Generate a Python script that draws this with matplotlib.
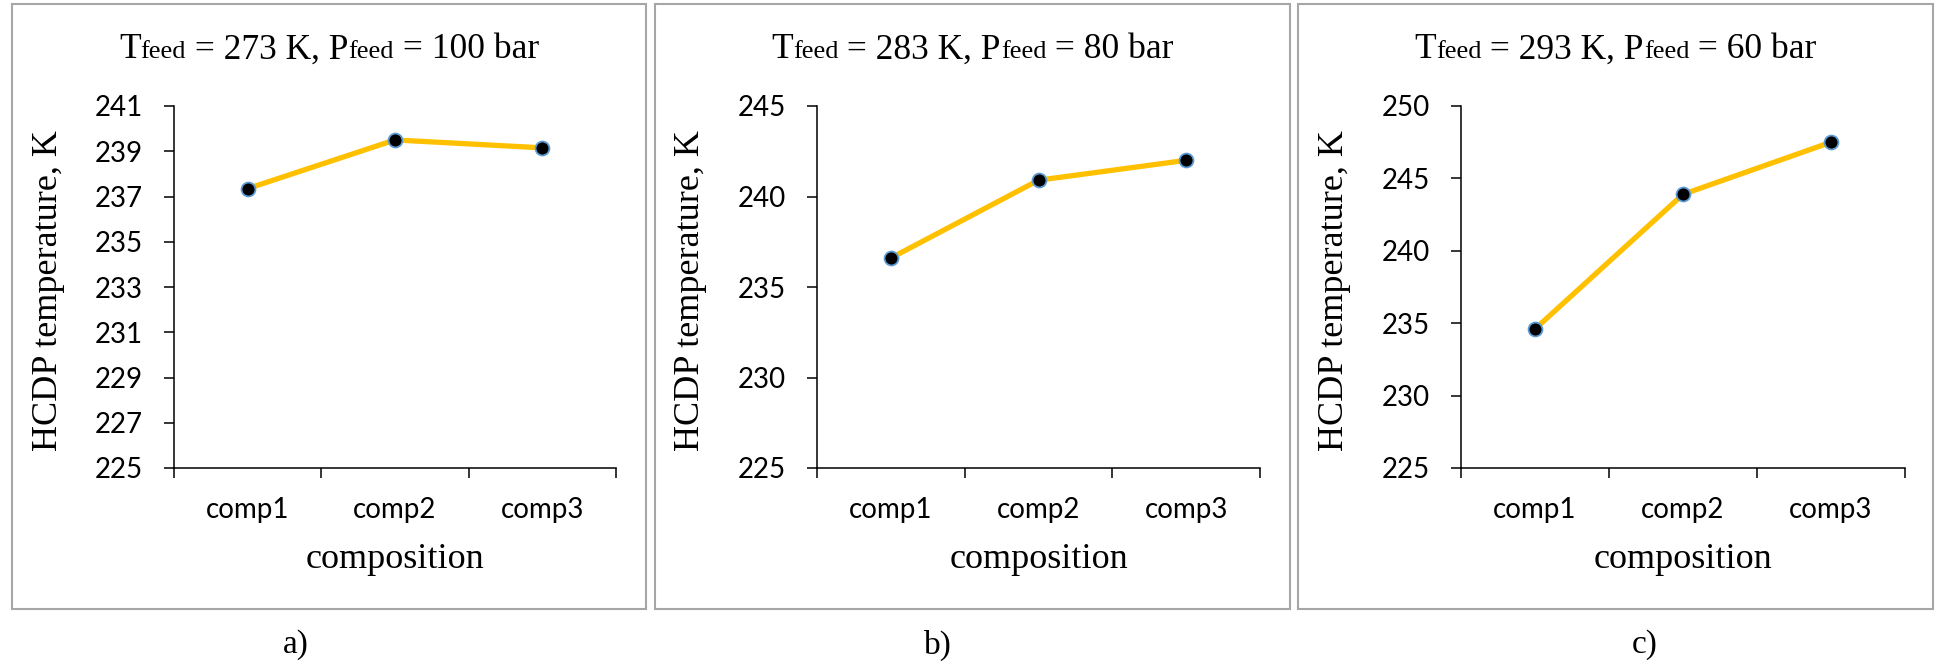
import matplotlib
matplotlib.use("Agg")
import matplotlib.pyplot as plt
from matplotlib.offsetbox import TextArea, HPacker, AnchoredOffsetbox
from matplotlib.patches import Rectangle

compositions = ["comp1", "comp2", "comp3"]
t_feed = [273, 283, 293]
p_feed = [100, 80, 60]
hcdp_a = [237.35, 239.5, 239.15]
hcdp_b = [236.6, 240.9, 242.0]
hcdp_c = [234.6, 243.9, 247.5]
yticks_a = list(range(225, 242, 2))
yticks_b = list(range(225, 246, 5))
yticks_c = list(range(225, 251, 5))
letters = ["a)", "b)", "c)"]

plt.rcParams["font.family"] = ["Lato", "DejaVu Sans"]
serif = "Liberation Serif"

W, H = 1936, 667
fig = plt.figure(figsize=(W / 100, H / 100), dpi=100)

boxes = [(12, 646), (655, 1290), (1298, 1933)]
axes_x = [(174, 616), (817, 1260), (1461, 1905)]
letter_x = [296, 938, 1645]
ax_top, ax_bot = 106, 468

data = [hcdp_a, hcdp_b, hcdp_c]
ticks = [yticks_a, yticks_b, yticks_c]

for i in range(3):
    bx0, bx1 = boxes[i]
    # рамка панели
    fig.add_artist(Rectangle((bx0 / W, 1 - 609 / H), (bx1 - bx0) / W, 605 / H,
                             fill=False, edgecolor="#a6a6a6", lw=1.5,
                             transform=fig.transFigure))

    x0, x1 = axes_x[i]
    ax = fig.add_axes([x0 / W, 1 - ax_bot / H, (x1 - x0) / W, (ax_bot - ax_top) / H])
    ax.plot([1, 2, 3], data[i], color="#FFC000", lw=3.8, marker="o", ms=10,
            mfc="black", mec="#5B9BD5", mew=1.3, zorder=3)
    ax.set_xlim(0.5, 3.5)
    ax.set_ylim(ticks[i][0], ticks[i][-1])
    ax.set_xticks([0.5, 1.5, 2.5, 3.5])
    ax.set_xticklabels([])
    ax.set_xticks([1, 2, 3], minor=True)
    ax.set_xticklabels(compositions, minor=True)
    ax.set_yticks(ticks[i])
    ax.tick_params(axis="x", which="major", direction="out", length=7.5, width=1.1)
    ax.tick_params(axis="x", which="minor", length=0, pad=21, labelsize=20)
    ax.tick_params(axis="y", direction="out", length=7.5, width=1.1, pad=15, labelsize=20)
    for s in ["top", "right"]:
        ax.spines[s].set_visible(False)
    for s in ["left", "bottom"]:
        ax.spines[s].set_linewidth(1.1)

    ax.set_xlabel("composition", family=serif, fontsize=26)
    ax.xaxis.set_label_coords(0.5, -0.254)
    ax.xaxis.label.set_va("center")
    ax.set_ylabel("HCDP temperature, K", family=serif, fontsize=26)
    ax.yaxis.set_label_coords(-0.285, 0.49)
    ax.yaxis.label.set_va("center")

    # заголовок с мелким "feed"
    parts = [("T", 25.5), ("feed", 19), (" = %d K, P" % t_feed[i], 25.5),
             ("feed", 19), (" = %d bar" % p_feed[i], 25.5)]
    kids = [TextArea(s, textprops=dict(fontsize=sz, family=serif)) for s, sz in parts]
    pack = HPacker(children=kids, align="baseline", pad=0, sep=0)
    title = AnchoredOffsetbox(loc="center", child=pack, pad=0, borderpad=0, frameon=False,
                              bbox_to_anchor=((bx0 + bx1) / 2 / W, 1 - 50 / H),
                              bbox_transform=fig.transFigure)
    fig.add_artist(title)

    fig.text(letter_x[i] / W, 1 - 645 / H, letters[i], ha="center", va="center",
             family=serif, fontsize=24)

fig.savefig("out.png", dpi=100)
